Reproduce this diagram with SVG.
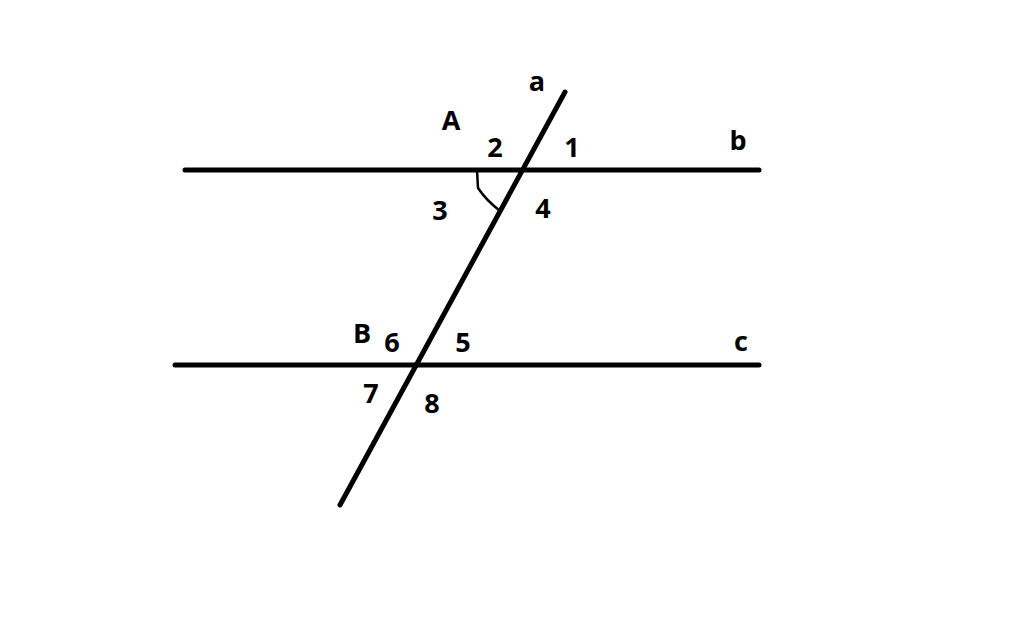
<svg xmlns="http://www.w3.org/2000/svg" width="1024" height="640" viewBox="0 0 1024 640">
<style>
.ln{stroke:#000;stroke-width:5;stroke-linecap:round;fill:none}
.arc{stroke:#000;stroke-width:2.5;fill:none}
text{font-family:"Open Sans","Liberation Sans",sans-serif;font-weight:bold;font-size:27px;fill:#000;text-anchor:middle}
</style>
<rect width="1024" height="640" fill="#fff"/>
<g id="connectors">
<line id="line-b" class="ln" x1="185" y1="170" x2="759" y2="170"/>
<line id="line-c" class="ln" x1="175" y1="365" x2="759" y2="365"/>
<line id="line-a" class="ln" x1="565" y1="92" x2="340" y2="505"/>
<path id="angle-arc" class="arc" d="M477,170 L478,188 Q486,200 500,211"/>
</g>
<g id="labels">
<text x="537" y="91">a</text>
<text x="451" y="130">A</text>
<text x="495" y="157">2</text>
<text x="572" y="157">1</text>
<text x="738" y="150">b</text>
<text x="440" y="220">3</text>
<text x="543" y="218">4</text>
<text x="362" y="343">B</text>
<text x="392" y="352">6</text>
<text x="463" y="352">5</text>
<text x="741" y="351">c</text>
<text x="371" y="403">7</text>
<text x="432" y="413">8</text>
</g>
</svg>
